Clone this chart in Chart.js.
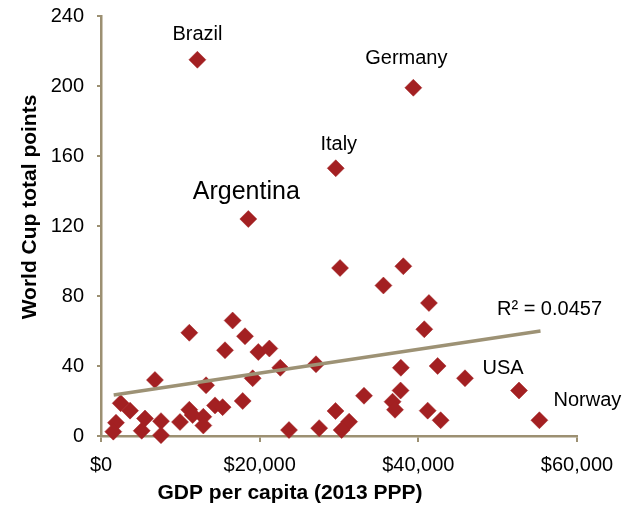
<!DOCTYPE html>
<html>
<head>
<meta charset="utf-8">
<script src="https://cdn.jsdelivr.net/npm/chart.js@4"></script>
<style>
  body { margin: 0; background: #fff; }
</style>
</head>
<body>
<canvas id="myChart" width="635" height="516"></canvas>
<script>
// GDP per capita (2013 PPP) and World Cup total points
const gdp = [12150, 18570, 39370, 29590, 30130, 38110, 35600, 41340, 40750, 11130,
  16590, 18150, 15630, 19830, 21220, 22600, 27100, 37800, 42430, 45880,
  52690, 55260, 6800, 13240, 19120, 17860, 14370, 15330, 2480, 3660,
  1890, 1550, 5550, 5130, 7560, 7560, 9960, 11130, 11550, 12900,
  12900, 33150, 37760, 36750, 37060, 41180, 42810, 29560, 31280, 30330,
  27500, 23700];
const puntos = [215, 124, 199, 153, 96, 97, 86, 76, 61, 59,
  66, 57, 49, 48, 50, 39, 41, 39, 40, 33,
  26, 9, 32, 29, 33, 20, 17.5, 16.5, 18.7, 14.5,
  7.6, 2.5, 10, 3, 8.5, 0.5, 8, 15, 12, 11,
  6, 23, 26, 19.6, 15, 14.5, 9, 14.3, 8.2, 3.4,
  4.5, 3.4];

// linear trend line ends
const trendX = [1600, 55400];
const trendY = [23.4, 60];
const r2Text = 'R² = 0.0457';

// labelled countries (index into the arrays above)
const paises = ['Brazil', 'Argentina', 'Germany', 'Italy', 'USA', 'Norway'];
const paisIdx = [0, 1, 2, 3, 20, 21];

const xTicks = [0, 20000, 40000, 60000];
const yTicks = [0, 40, 80, 120, 160, 200, 240];

const ejeColor = '#9c9072';
const rojo = '#a32022';
const fuente = '"Liberation Sans", Arial, sans-serif';

// where each label sits relative to its point (px)
const offsets = {
  Brazil: [0, -25, 20],
  Argentina: [-2, -27, 25],
  Germany: [-7, -29, 20],
  Italy: [3, -24, 20],
  USA: [-16, -22, 20],
  Norway: [48, -20, 20]
};

const etiquetas = {
  id: 'etiquetas',
  afterDatasetsDraw(chart) {
    const { ctx, scales: { x, y } } = chart;
    ctx.save();
    ctx.fillStyle = '#000';
    ctx.textAlign = 'center';
    ctx.textBaseline = 'middle';
    paises.forEach((nombre, i) => {
      const k = paisIdx[i];
      const o = offsets[nombre];
      ctx.font = o[2] + 'px ' + fuente;
      ctx.fillText(nombre, x.getPixelForValue(gdp[k]) + o[0], y.getPixelForValue(puntos[k]) + o[1]);
    });
    ctx.font = '20px ' + fuente;
    ctx.fillText(r2Text, x.getPixelForValue(trendX[1]) + 9, y.getPixelForValue(trendY[1]) - 22);

    // axis titles
    ctx.font = 'bold 21px ' + fuente;
    ctx.fillText('GDP per capita (2013 PPP)', 290, 493);
    ctx.translate(30, 207);
    ctx.rotate(-Math.PI / 2);
    ctx.fillText('World Cup total points', 0, 0);
    ctx.restore();
  }
};

const ctx = document.getElementById('myChart');
new Chart(ctx, {
  type: 'scatter',
  data: {
    datasets: [
      {
        label: 'Trend',
        type: 'line',
        data: trendX.map((v, i) => ({ x: v, y: trendY[i] })),
        borderColor: '#9d9275',
        borderWidth: 3.5,
        pointRadius: 0,
        order: 0
      },
      {
        label: 'Countries',
        data: gdp.map((v, i) => ({ x: v, y: puntos[i] })),
        pointStyle: 'rectRot',
        pointRadius: 8.5,
        pointHoverRadius: 8.5,
        backgroundColor: rojo,
        borderColor: rojo,
        borderWidth: 0.5,
        clip: false,
        order: 1
      }
    ]
  },
  options: {
    responsive: false,
    animation: false,
    events: [],
    layout: { padding: { top: 16, right: 58, left: 0, bottom: 0 } },
    plugins: {
      legend: { display: false },
      tooltip: { enabled: false }
    },
    scales: {
      x: {
        type: 'linear',
        min: 0,
        max: 60000,
        afterBuildTicks: (s) => { s.ticks = xTicks.map(v => ({ value: v })); },
        afterFit: (s) => { s.height = 80; s.paddingLeft = 0; s.paddingRight = 0; },
        ticks: {
          color: '#000',
          font: { family: fuente, size: 20 },
          padding: 11,
          maxRotation: 0,
          callback: (v) => '$' + v.toLocaleString('en-US')
        },
        grid: { drawOnChartArea: false, drawTicks: true, tickLength: 6, color: ejeColor, lineWidth: 2 },
        border: { color: ejeColor, width: 2.5 }
      },
      y: {
        type: 'linear',
        min: 0,
        max: 240,
        afterBuildTicks: (s) => { s.ticks = yTicks.map(v => ({ value: v })); },
        afterFit: (s) => { s.width = 101; s.paddingTop = 0; s.paddingBottom = 0; },
        ticks: {
          color: '#000',
          font: { family: fuente, size: 20 },
          padding: 13
        },
        grid: { drawOnChartArea: false, drawTicks: true, tickLength: 4, color: ejeColor, lineWidth: 2 },
        border: { color: ejeColor, width: 2.5 }
      }
    }
  },
  plugins: [etiquetas]
});
</script>
</body>
</html>
